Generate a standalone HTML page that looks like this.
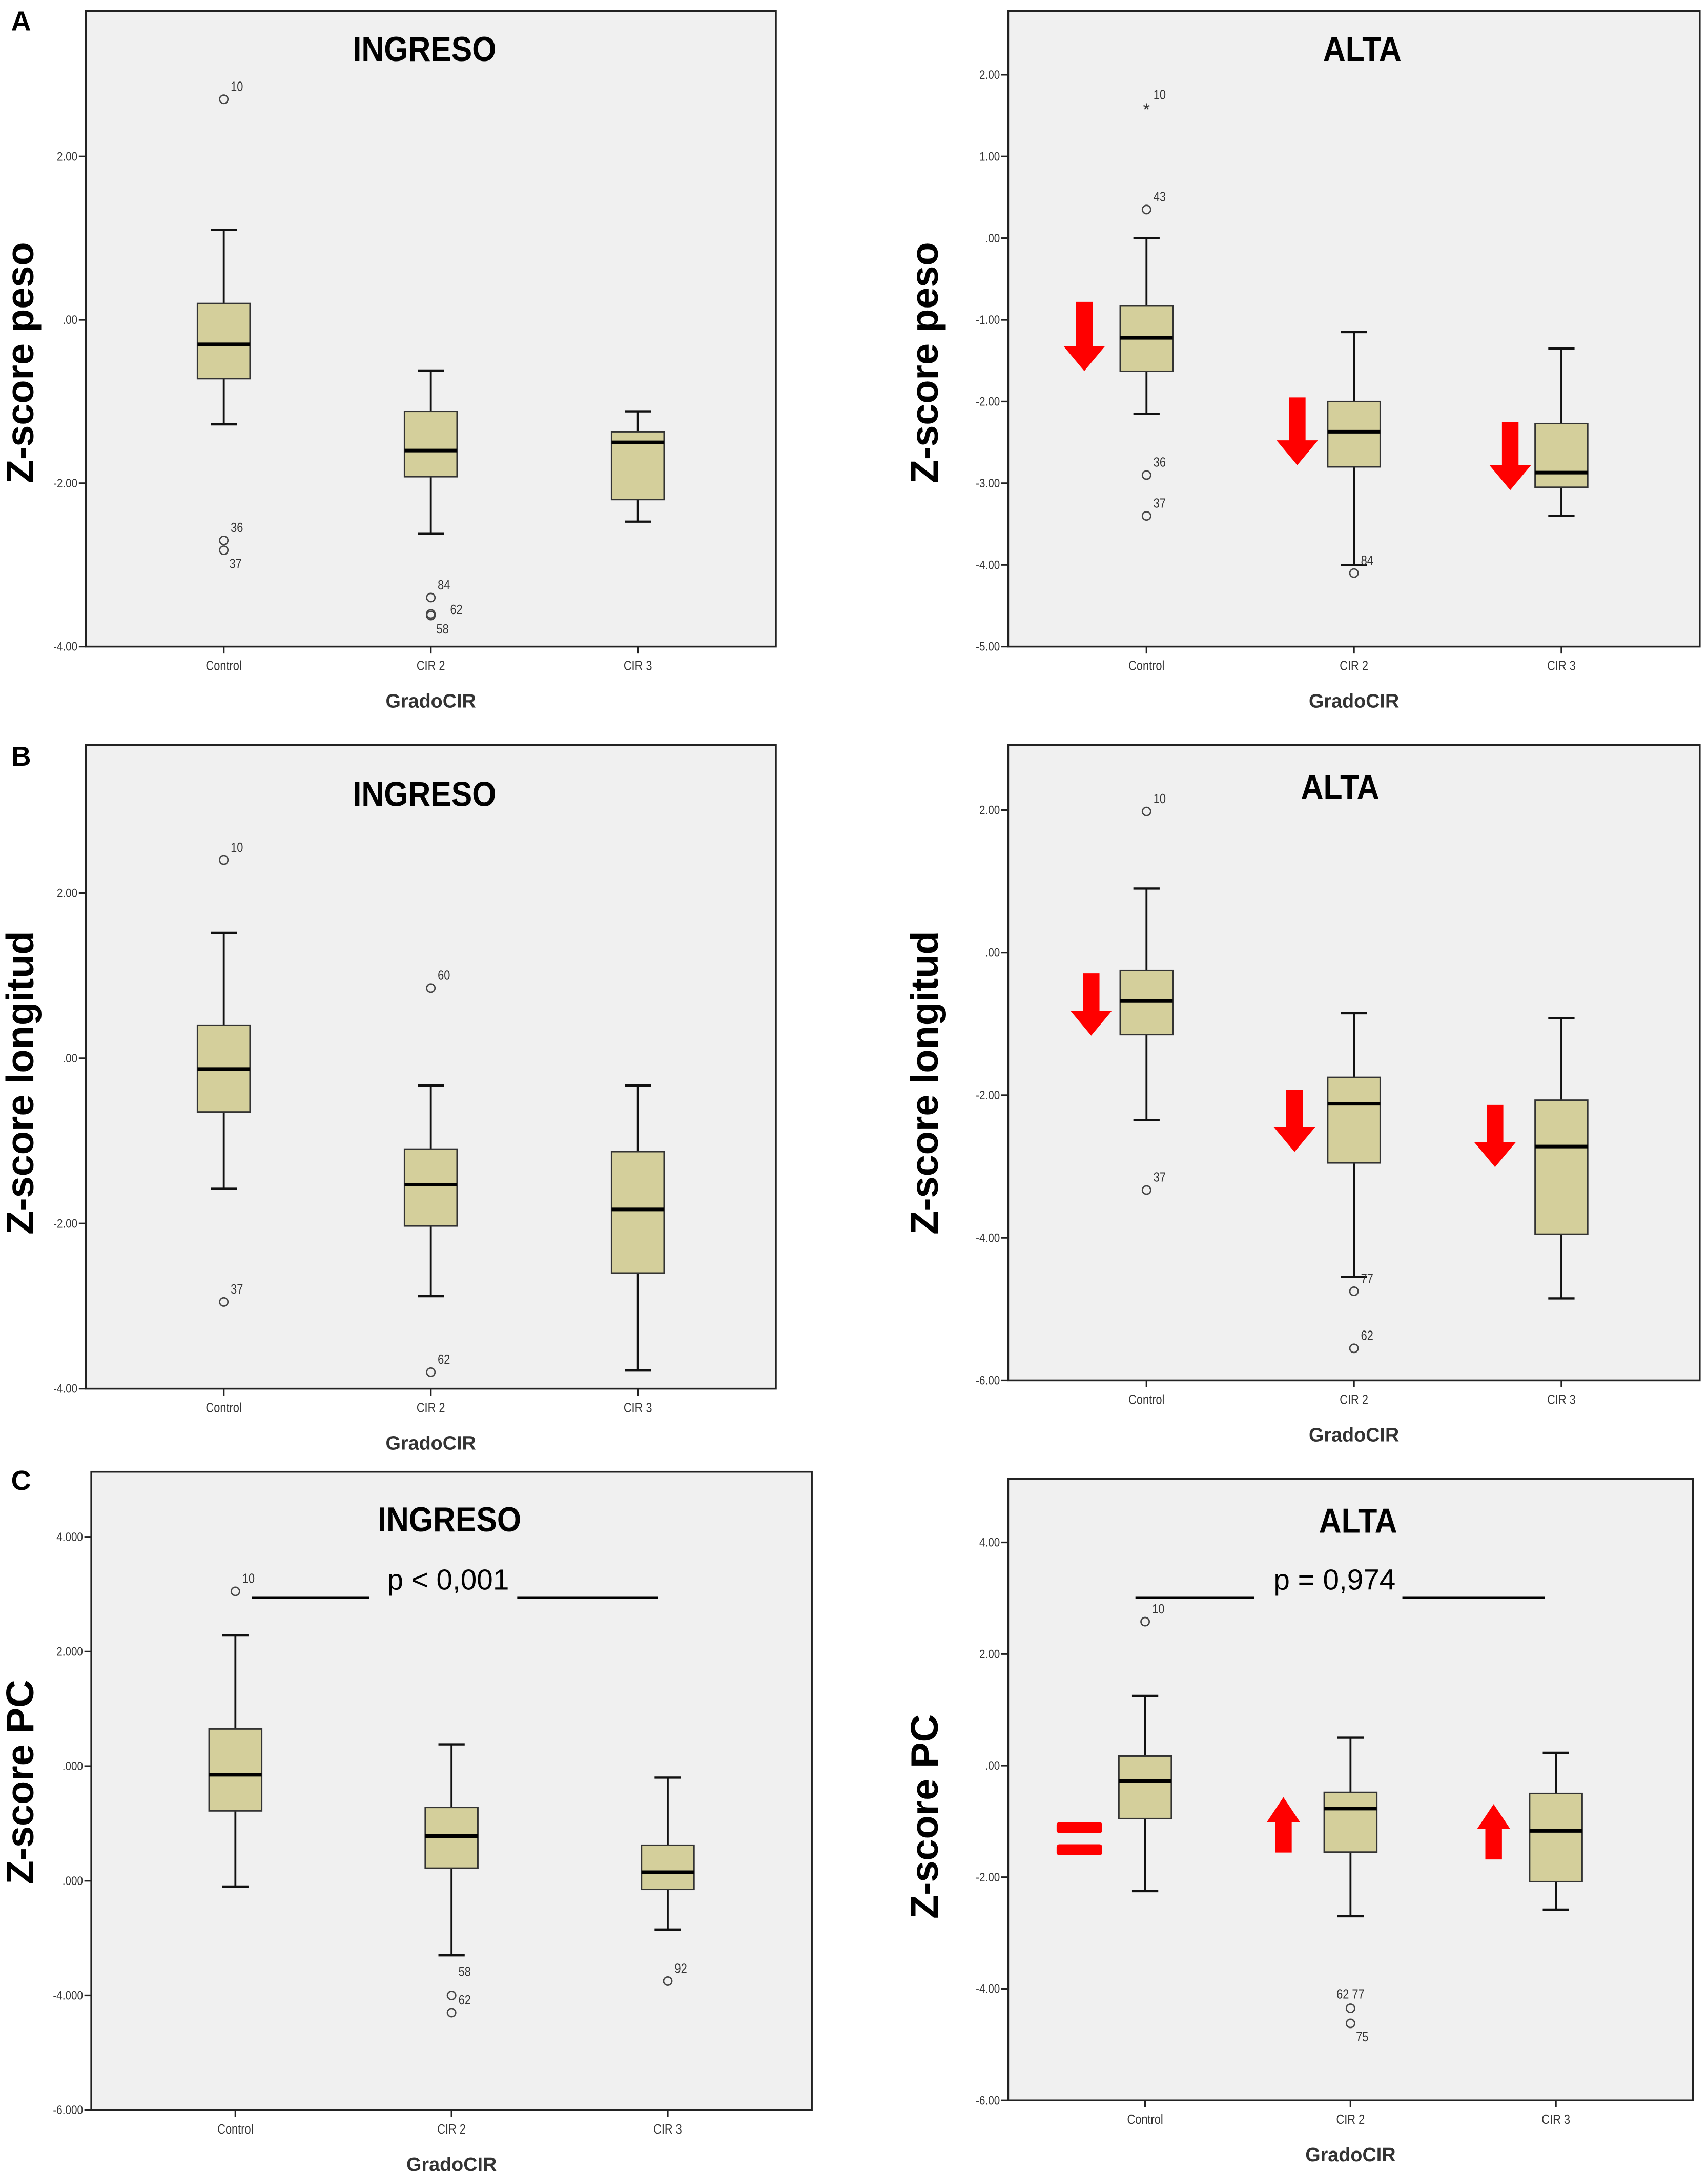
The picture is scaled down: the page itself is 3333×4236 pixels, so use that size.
<!DOCTYPE html>
<html><head><meta charset="utf-8">
<style>
html,body{margin:0;padding:0;background:#fff;}
svg{display:block;}
</style></head>
<body>
<svg id="fig" xmlns="http://www.w3.org/2000/svg" width="3333" height="4236" viewBox="0 0 1235 1568" preserveAspectRatio="none" font-family="'Liberation Sans', sans-serif">
<rect x="0" y="0" width="1235" height="1568" fill="#fff"/>
<text x="8" y="22" font-size="20" font-weight="bold">A</text>
<text x="8" y="553" font-size="20" font-weight="bold">B</text>
<text x="8" y="1076" font-size="20" font-weight="bold">C</text>
</svg>
<script>
// ---- data ----
const categories = ["Control", "CIR 2", "CIR 3"];
// each row: [whiskerLow, Q1, median, Q3, whiskerHigh] per category
const aIngresoBoxes = [[-1.28,-0.72,-0.30,0.20,1.10],[-2.62,-1.92,-1.60,-1.12,-0.62],[-2.47,-2.20,-1.50,-1.37,-1.12]];
const aAltaBoxes    = [[-2.15,-1.63,-1.22,-0.83,0.00],[-4.00,-2.80,-2.37,-2.00,-1.15],[-3.40,-3.05,-2.87,-2.27,-1.35]];
const bIngresoBoxes = [[-1.58,-0.65,-0.13,0.40,1.52],[-2.88,-2.03,-1.53,-1.10,-0.33],[-3.78,-2.60,-1.83,-1.13,-0.33]];
const bAltaBoxes    = [[-2.35,-1.15,-0.68,-0.25,0.90],[-4.55,-2.95,-2.12,-1.75,-0.85],[-4.85,-3.95,-2.72,-2.07,-0.92]];
const cIngresoBoxes = [[-2.10,-0.78,-0.15,0.65,2.28],[-3.30,-1.78,-1.22,-0.72,0.38],[-2.85,-2.15,-1.85,-1.38,-0.20]];
const cAltaBoxes    = [[-2.25,-0.95,-0.28,0.17,1.25],[-2.70,-1.55,-0.77,-0.48,0.50],[-2.58,-2.08,-1.17,-0.50,0.23]];
// outliers: [categoryIndex, value, label, labelSide]
const aIngresoOut = [[0,2.70,"10","u"],[0,-2.70,"36","u"],[0,-2.82,"37","d"],[1,-3.40,"84","u"],[1,-3.60,"62","r"],[1,-3.62,"58","d"]];
const aAltaOut    = [[0,1.60,"10","u"],[0,0.35,"43","u"],[0,-2.90,"36","u"],[0,-3.40,"37","u"],[1,-4.10,"84","u"]];
const aAltaExtreme = [0];  // index into aAltaOut drawn as star
const bIngresoOut = [[0,2.40,"10","u"],[0,-2.95,"37","u"],[1,0.85,"60","u"],[1,-3.80,"62","u"]];
const bAltaOut    = [[0,1.98,"10","u"],[0,-3.33,"37","u"],[1,-4.75,"77","u"],[1,-5.55,"62","u"]];
const cIngresoOut = [[0,3.05,"10","u"],[1,-4.00,"58","uu"],[1,-4.30,"62","u"],[2,-3.75,"92","u"]];
const cAltaOut    = [[0,2.58,"10","u"],[1,-4.35,"62 77","uc"],[1,-4.62,"75","d"]];
// ticks
const ticksA1 = [2,0,-2,-4];           const ticksA1Labels = ["2.00",".00","-2.00","-4.00"];
const ticksA2 = [2,1,0,-1,-2,-3,-4,-5]; const ticksA2Labels = ["2.00","1.00",".00","-1.00","-2.00","-3.00","-4.00","-5.00"];
const ticksB1 = [2,0,-2,-4];           const ticksB1Labels = ["2.00",".00","-2.00","-4.00"];
const ticksB2 = [2,0,-2,-4,-6];        const ticksB2Labels = ["2.00",".00","-2.00","-4.00","-6.00"];
const ticksC1 = [4,2,0,-2,-4,-6];      const ticksC1Labels = ["4.000","2.000",".000",".000","-4.000","-6.000"];
const ticksC2 = [4,2,0,-2,-4,-6];      const ticksC2Labels = ["4.00","2.00",".00","-2.00","-4.00","-6.00"];

const NS = "http://www.w3.org/2000/svg";
const svg = document.getElementById("fig");
function mk(tag, attrs, parent, txt){
  const e = document.createElementNS(NS, tag);
  for (const k in attrs) e.setAttribute(k, attrs[k]);
  if (txt !== undefined) e.textContent = txt;
  (parent || svg).appendChild(e);
  return e;
}
const catFrac = [0.2, 0.5, 0.8];

function panel(cfg){
  const g = mk("g", {});
  
  
  const x0=cfg.x0,x1=cfg.x1,y0=cfg.y0,y1=cfg.y1;
  const ppu = (cfg.tickY1 - cfg.tickY0)/(cfg.tickV0 - cfg.tickV1);
  const yScale = v => cfg.tickY0 + (cfg.tickV0 - v)*ppu;
  const xScale = i => x0 + (x1-x0)*catFrac[i];
  const bg = mk("rect",{x:x0,y:y0,width:x1-x0,height:y1-y0,fill:"#f0f0f0",stroke:"#222","stroke-width":1.3},g);
  
  
  cfg.ticks.forEach((t,i)=>{
    const y=yScale(t);
    mk("line",{x1:x0-5,x2:x0,y1:y,y2:y,stroke:"#222","stroke-width":1.2},g);
    const tl = mk("text",{x:x0-6,y:y+3,"font-size":9,"text-anchor":"end",fill:"#333",transform:`translate(${x0-6},0) scale(0.85,1) translate(${-(x0-6)},0)`},g,cfg.tickLabels[i]);
    
    
  });
  categories.forEach((c,i)=>{
    const x=xScale(i);
    mk("line",{x1:x,x2:x,y1:y1,y2:y1+5,stroke:"#222","stroke-width":1.2},g);
    const xl = mk("text",{x:x,y:y1+17,"font-size":9.5,"text-anchor":"middle",fill:"#333",transform:`translate(${x},0) scale(0.85,1) translate(${-x},0)`},g,c);
    
    
  });
  const xt = mk("text",{x:xScale(1),y:y1+44,"font-size":14,"font-weight":"bold","text-anchor":"middle",fill:"#333"},g,"GradoCIR");
  
  
  const tt = mk("text",{x:cfg.titleX,y:cfg.titleY,"font-size":25,"font-weight":"bold","text-anchor":"middle",fill:"#000",transform:`translate(${cfg.titleX},0) scale(0.9,1) translate(${-cfg.titleX},0)`},g,cfg.title);
  
  
  const yc = cfg.ylabY;
  const yt = mk("text",{x:cfg.ylabX,y:yc,"font-size":28,"font-weight":"bold","text-anchor":"middle",fill:"#000",transform:`rotate(-90 ${cfg.ylabX} ${yc})`},g,cfg.ylabel);
  
  
  const bw = 38, cw = 19;
  cfg.boxes.forEach((b,i)=>{
    const x=xScale(i);
    const bgp = mk("g",{},g);
    
    
    const [lo,q1,md,q3,hi]=b;
    mk("line",{x1:x,x2:x,y1:yScale(hi),y2:yScale(lo),stroke:"#111","stroke-width":1.4},bgp);
    mk("line",{x1:x-cw/2,x2:x+cw/2,y1:yScale(hi),y2:yScale(hi),stroke:"#111","stroke-width":1.6},bgp);
    mk("line",{x1:x-cw/2,x2:x+cw/2,y1:yScale(lo),y2:yScale(lo),stroke:"#111","stroke-width":1.6},bgp);
    mk("rect",{x:x-bw/2,y:yScale(q3),width:bw,height:yScale(q1)-yScale(q3),fill:"#d4cf9b",stroke:"#333","stroke-width":1.1},bgp);
    mk("line",{x1:x-bw/2,x2:x+bw/2,y1:yScale(md),y2:yScale(md),stroke:"#000","stroke-width":2.6},bgp);
  });
  const side = {u:[5,-6,"start"],uu:[5,-14,"start"],d:[4,13,"start"],r:[14,0,"start"],uc:[0,-7,"middle"]};
  cfg.out.forEach((o,k)=>{
    const x=xScale(o[0]), y=yScale(o[1]);
    const og = mk("g",{},g);
    
    
    if (cfg.extreme && cfg.extreme.includes(k)){
      mk("text",{x:x,y:y+6,"font-size":13,"text-anchor":"middle",fill:"#333"},og,"*");
    } else {
      mk("circle",{cx:x,cy:y,r:3,fill:"none",stroke:"#444","stroke-width":1},og);
    }
    const s = side[o[3]] || side.u;
    const lx = x+s[0];
    mk("text",{x:lx,y:y+s[1],"font-size":9.5,fill:"#333","text-anchor":s[2],transform:`translate(${lx},0) scale(0.85,1) translate(${-lx},0)`},og,o[2]);
  });
  return {g, xScale, yScale};
}

function downArrow(cx, top, bottom){
  const a = mk("polygon",{points:`${cx-6},${top} ${cx+6},${top} ${cx+6},${bottom-18} ${cx+15},${bottom-18} ${cx},${bottom} ${cx-15},${bottom-18} ${cx-6},${bottom-18}`,fill:"#ff0000"});
  
  
}
function upArrow(cx, top, bottom){
  const a = mk("polygon",{points:`${cx-6},${bottom} ${cx+6},${bottom} ${cx+6},${top+18} ${cx+12},${top+18} ${cx},${top} ${cx-12},${top+18} ${cx-6},${top+18}`,fill:"#ff0000"});
  
  
}

panel({name:"panel-a-ingreso",x0:62,x1:561,y0:8,y1:467,tickV0:2,tickY0:113,tickV1:-4,tickY1:467,
  ticks:ticksA1,tickLabels:ticksA1Labels,boxes:aIngresoBoxes,out:aIngresoOut,title:"INGRESO",titleX:307,titleY:44,ylabel:"Z-score peso",ylabX:24,ylabY:262});
panel({name:"panel-a-alta",x0:729,x1:1229,y0:8,y1:467,tickV0:2,tickY0:54,tickV1:-5,tickY1:467,
  ticks:ticksA2,tickLabels:ticksA2Labels,boxes:aAltaBoxes,out:aAltaOut,extreme:aAltaExtreme,title:"ALTA",titleX:985,titleY:44,ylabel:"Z-score peso",ylabX:678,ylabY:262});
downArrow(784,218,268); downArrow(938,287,336); downArrow(1092,305,354);

panel({name:"panel-b-ingreso",x0:62,x1:561,y0:538,y1:1003,tickV0:2,tickY0:645,tickV1:-4,tickY1:1003,
  ticks:ticksB1,tickLabels:ticksB1Labels,boxes:bIngresoBoxes,out:bIngresoOut,title:"INGRESO",titleX:307,titleY:582,ylabel:"Z-score longitud",ylabX:24,ylabY:782});
panel({name:"panel-b-alta",x0:729,x1:1229,y0:538,y1:997,tickV0:2,tickY0:585,tickV1:-6,tickY1:997,
  ticks:ticksB2,tickLabels:ticksB2Labels,boxes:bAltaBoxes,out:bAltaOut,title:"ALTA",titleX:969,titleY:577,ylabel:"Z-score longitud",ylabX:678,ylabY:782});
downArrow(789,703,748); downArrow(936,787,832); downArrow(1081,798,843);

panel({name:"panel-c-ingreso",x0:66,x1:587,y0:1063,y1:1524,tickV0:4,tickY0:1110,tickV1:-6,tickY1:1524,
  ticks:ticksC1,tickLabels:ticksC1Labels,boxes:cIngresoBoxes,out:cIngresoOut,title:"INGRESO",titleX:325,titleY:1106,ylabel:"Z-score PC",ylabX:24,ylabY:1287});
panel({name:"panel-c-alta",x0:729,x1:1224,y0:1068,y1:1517,tickV0:4,tickY0:1114,tickV1:-6,tickY1:1517,
  ticks:ticksC2,tickLabels:ticksC2Labels,boxes:cAltaBoxes,out:cAltaOut,title:"ALTA",titleX:982,titleY:1107,ylabel:"Z-score PC",ylabX:678,ylabY:1312});
upArrow(928,1298,1338); upArrow(1080,1303,1343);
const eq1 = mk("rect",{x:764,y:1316,width:33,height:8,rx:2,fill:"#ff0000"});


mk("rect",{x:764,y:1332,width:33,height:8,rx:2,fill:"#ff0000"});

function pval(txt, cx, l1a, l1b, l2a, l2b){
  const g = mk("g",{});
  
  
  mk("text",{x:cx,y:1148,"font-size":21,"text-anchor":"middle",fill:"#000"},g,txt);
  mk("line",{x1:l1a,x2:l1b,y1:1154,y2:1154,stroke:"#000","stroke-width":1.5},g);
  mk("line",{x1:l2a,x2:l2b,y1:1154,y2:1154,stroke:"#000","stroke-width":1.5},g);
}
pval("p < 0,001", 324, 182, 267, 374, 476);
pval("p = 0,974", 965, 821, 907, 1014, 1117);
</script>
</body></html>
